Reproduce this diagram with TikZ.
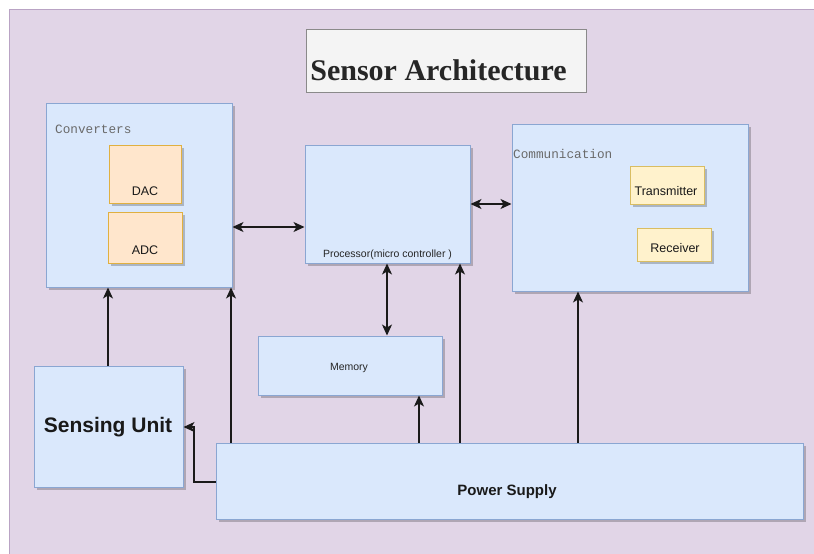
\documentclass[tikz,border=0pt]{standalone}
\usepackage{fontspec}
\setmainfont{Liberation Sans}
\newfontfamily\titlefont{Liberation Serif}
\newfontfamily\monofont{Liberation Mono}
\usetikzlibrary{arrows.meta,shadows}

\definecolor{bgfill}{HTML}{E1D5E7}
\definecolor{bgline}{HTML}{B9A3C4}
\definecolor{bluefill}{HTML}{DAE8FC}
\definecolor{blueline}{HTML}{8AA6D2}
\definecolor{orangefill}{HTML}{FFE6CC}
\definecolor{orangeline}{HTML}{E0B040}
\definecolor{yellowfill}{HTML}{FFF2CC}
\definecolor{yellowline}{HTML}{D9BD62}
\definecolor{titlefill}{HTML}{F4F4F4}
\definecolor{titleline}{HTML}{8A8A8A}
\definecolor{wire}{HTML}{1A1A1A}
\definecolor{monogray}{HTML}{6A6A6A}

\tikzset{
  boxbase/.style={rectangle, inner sep=0pt, line width=1pt,
    drop shadow={shadow xshift=2.5pt, shadow yshift=-2.5pt, fill=black, opacity=0.22}},
  bluebox/.style={boxbase, fill=bluefill, draw=blueline},
  orangebox/.style={boxbase, fill=orangefill, draw=orangeline},
  yellowbox/.style={boxbase, fill=yellowfill, draw=yellowline},
  titlebox/.style={rectangle, inner sep=0pt, line width=1pt, fill=titlefill, draw=titleline},
  smalltxt/.style={inner sep=0pt, text=black!90, font=\fontsize{12.5}{15}\selectfont},
  tinytxt/.style={inner sep=0pt, text=black!85, font=\fontsize{10.5}{13}\selectfont},
  monotxt/.style={inner sep=0pt, anchor=west, text=monogray, font=\monofont\fontsize{12.7}{15}\selectfont},
  tip/.tip={Stealth[length=11pt,width=10pt,inset=3pt]},
  arr/.style={draw=wire, line width=1.1pt, -tip},
  arrboth/.style={draw=wire, line width=1.1pt, tip-tip}
}

\begin{document}
\begin{tikzpicture}[x=1pt,y=-1pt]
  \useasboundingbox (0,0) rectangle (814,554);
  % page background
  \fill[white] (0,0) rectangle (814,554);
  \draw[fill=bgfill, draw=bgline, line width=1pt] (9,9) rectangle (816,556);

  % title
  \node[titlebox, minimum width=280pt, minimum height=63pt] (title) at (446,60.5) {};
  \node[inner sep=0pt, text=black!85, font=\titlefont\bfseries\fontsize{30}{36}\selectfont] (titletxt) at (438.5,70) {Sensor Architecture};

  % converters block
  \node[bluebox, minimum width=186pt, minimum height=184pt] (conv) at (139,195) {};
  \node[monotxt] (convtxt) at (55,129) {Converters};
  \node[orangebox, minimum width=72pt, minimum height=58pt] (dac) at (145,174) {};
  \node[smalltxt] (dactxt) at (145,191) {DAC};
  \node[orangebox, minimum width=74pt, minimum height=51pt] (adc) at (145,237.5) {};
  \node[smalltxt] (adctxt) at (145,250) {ADC};

  % processor
  \node[bluebox, minimum width=165pt, minimum height=118pt] (proc) at (387.5,204) {};
  \node[tinytxt] (proctxt) at (387.5,255) {Processor(micro controller )};

  % communication block
  \node[bluebox, minimum width=236pt, minimum height=167pt] (comm) at (630,207.5) {};
  \node[monotxt] (commtxt) at (513,154) {Communication};
  \node[yellowbox, minimum width=74pt, minimum height=38pt] (tx) at (667,185) {};
  \node[smalltxt] (txtxt) at (666,191.5) {Transmitter};
  \node[yellowbox, minimum width=74pt, minimum height=33pt] (rx) at (674,244.5) {};
  \node[smalltxt] (rxtxt) at (675,248) {Receiver};

  % memory
  \node[bluebox, minimum width=184pt, minimum height=59pt] (mem) at (350,365.5) {};
  \node[tinytxt] (memtxt) at (349,367.5) {Memory};

  % sensing unit
  \node[bluebox, minimum width=149pt, minimum height=121pt] (sens) at (108.5,426.5) {};
  \node[inner sep=0pt, text=black!90, font=\bfseries\fontsize{21}{25}\selectfont] (senstxt) at (108,427) {Sensing Unit};

  % power supply
  \node[bluebox, minimum width=587pt, minimum height=76pt] (pow) at (509.5,481) {};
  \node[inner sep=0pt, text=black!90, font=\bfseries\fontsize{15}{18}\selectfont] (powtxt) at (507,492) {Power Supply};

  % data paths
  \draw[arrboth] (conv.east |- 0,227) -- (proc.west |- 0,227);
  \draw[arrboth] (proc.east |- 0,204) -- (comm.west |- 0,204);
  \draw[arrboth] (proc.south -| 387,0) -- (mem.north -| 387,0);
  \draw[arr] (sens.north -| 108,0) -- (conv.south -| 108,0);

  % power distribution
  \draw[arr] (pow.north -| 231,0) -- (conv.south -| 231,0);
  \draw[arr] (pow.north -| 419,0) -- (mem.south -| 419,0);
  \draw[arr] (pow.north -| 460,0) -- (proc.south -| 460,0);
  \draw[arr] (pow.north -| 578,0) -- (comm.south -| 578,0);
  \draw[arr] (pow.west |- 0,482) -| (194,427) -- (sens.east |- 0,427);
\end{tikzpicture}
\end{document}
